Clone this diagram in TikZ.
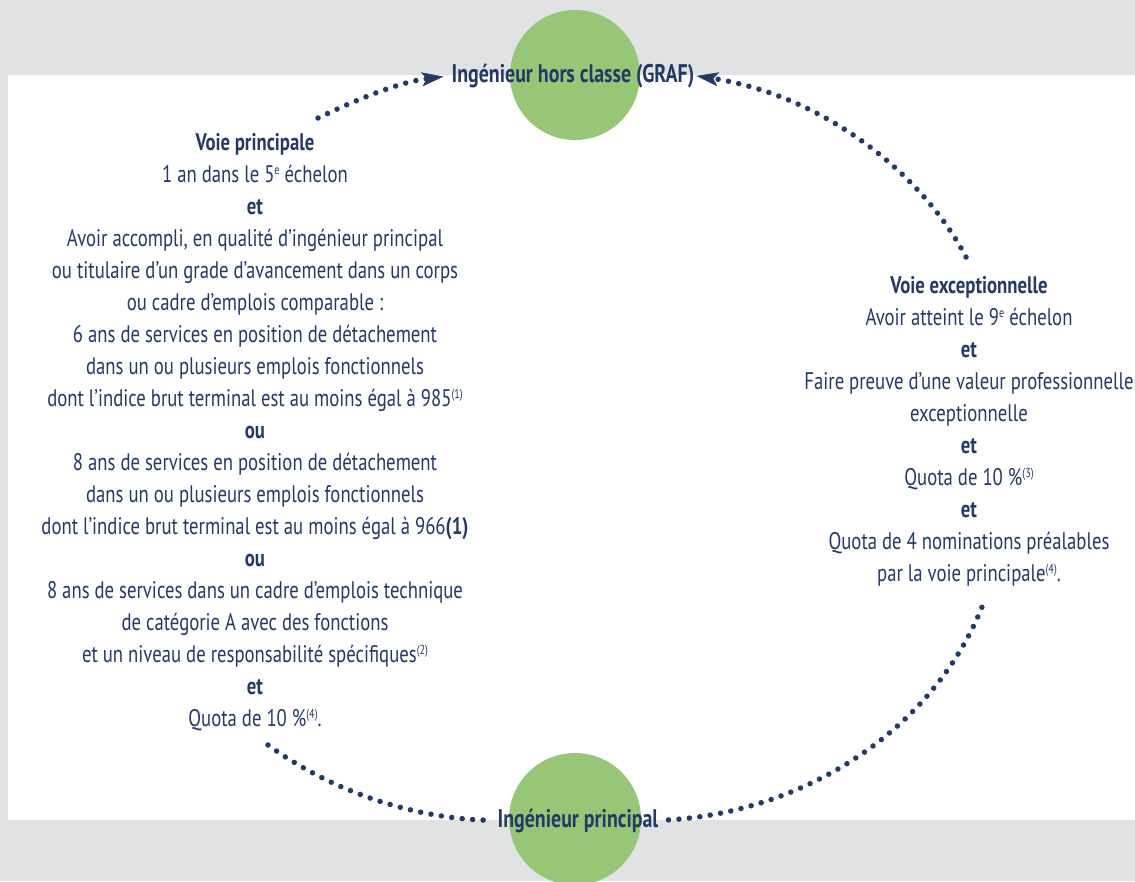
\documentclass[tikz,border=0pt]{standalone}
\usepackage{fontspec}
\setmainfont{PT Sans}[FakeStretch=0.78]
\usetikzlibrary{arrows.meta}
\definecolor{navy}{HTML}{233A66}
\definecolor{leaf}{HTML}{98C677}
\definecolor{bgray}{HTML}{E1E2E4}
\newcommand\supx[1]{\raisebox{8pt}{\fontsize{13}{13}\selectfont #1}}
\begin{document}
\begin{tikzpicture}[x=1pt,y=-1pt,
 txt/.style={text=navy, align=center, font=\fontsize{24}{32}\selectfont, inner sep=0pt},
 lbl/.style={text=navy, font=\fontsize{25.5}{28}\selectfont\bfseries, inner sep=0pt},
 disc/.style={circle, fill=leaf, minimum size=#1, inner sep=0pt},
 dots/.style={draw=navy, line width=5.5pt, line cap=round, dash pattern=on 0pt off 10.5pt},
 arrowend/.style={-{Stealth[length=22pt,width=14pt,inset=5pt,line width=0.5pt,fill=navy]}}
]
\useasboundingbox[fill=bgray] (0,0) rectangle (1135,881);
\fill[white] (8,75) rectangle (1135,820);
\node[disc=130pt] (topc) at (575,75) {};
\node[disc=132pt] (botc) at (575,819) {};
\node[lbl, anchor=base] (topl) at (573,82) {Ingénieur hors classe (GRAF)};
\node[lbl, anchor=base] (botl) at (578,827) {Ingénieur principal};
\node[txt, anchor=base] (left) at (255,726.7) {\textbf{Voie principale}\\
1 an dans le 5\supx{e} échelon\\
\textbf{et}\\
Avoir accompli, en qualité d’ingénieur principal\\
ou titulaire d’un grade d’avancement dans un corps\\
ou cadre d’emplois comparable :\\
6 ans de services en position de détachement\\
dans un ou plusieurs emplois fonctionnels\\
dont l’indice brut terminal est au moins égal à 985\supx{(1)}\\
\textbf{ou}\\
8 ans de services en position de détachement\\
dans un ou plusieurs emplois fonctionnels\\
dont l’indice brut terminal est au moins égal à 966\textbf{(1)}\\
\textbf{ou}\\
8 ans de services dans un cadre d’emplois technique\\
de catégorie A avec des fonctions\\
et un niveau de responsabilité spécifiques\supx{(2)}\\
\textbf{et}\\
Quota de 10~\%\supx{(4)}.};
\node[txt, anchor=base] (right) at (969,581) {\textbf{Voie exceptionnelle}\\
Avoir atteint le 9\supx{e} échelon\\
\textbf{et}\\
Faire preuve d’une valeur professionnelle\\
exceptionnelle\\
\textbf{et}\\
Quota de 10~\%\supx{(3)}\\
\textbf{et}\\
Quota de 4 nominations préalables\\
par la voie principale\supx{(4)}.};
\coordinate (ltop) at (318,118);
\coordinate (rtop) at (966,257);
\coordinate (lbot) at (268,745);
\coordinate (rbot) at (982,607);
\draw[dots, arrowend, shorten >=8pt] (ltop) .. controls (360,98) and (400,82) .. (topl.west);
\draw[dots, arrowend, shorten >=2pt] (rtop) .. controls (920,170) and (820,95) .. (topl.east);
\draw[dots, shorten >=10pt] (lbot) .. controls (330,790) and (410,818) .. (botl.west);
\draw[dots, shorten <=10pt] (botl.east) .. controls (800,812) and (930,735) .. (rbot);
\end{tikzpicture}
\end{document}
